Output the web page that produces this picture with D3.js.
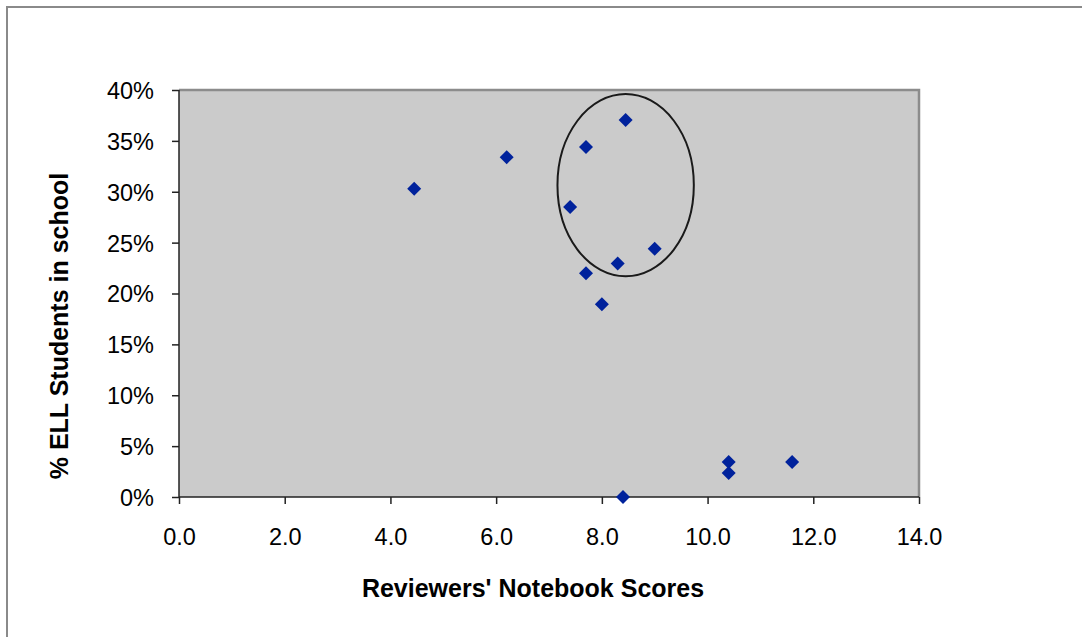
<!DOCTYPE html>
<html>
<head>
<meta charset="utf-8">
<script src="https://cdn.jsdelivr.net/npm/d3@7"></script>
<style>
  body { margin: 0; background: #fff; }
  svg { display: block; font-family: "Liberation Sans", Arial, sans-serif; }
  .axis text { font-size: 23.5px; fill: #000; }
  .axis path, .axis line { stroke: #222; stroke-width: 1.5px; }
</style>
</head>
<body>
<div id="chart"></div>
<script>
// reviewers' notebook scores vs share of ELL students
var scores = [4.45, 6.2, 8.45, 7.7, 7.4, 9.0, 8.3, 7.7, 8.0, 8.4, 10.4, 10.4, 11.6];
var ellPct = [30.3, 33.4, 37.05, 34.4, 28.5, 24.4, 22.95, 22.0, 18.95, 0, 3.45, 2.35, 3.45];
var xTicks = [0, 2, 4, 6, 8, 10, 12, 14];
var yTicks = [0, 5, 10, 15, 20, 25, 30, 35, 40];
// highlighted group: centre and radii in data units
var ring = {cx: 8.45, cy: 30.65, rx: 1.29, ry: 8.95};

var W = 1082, H = 637;
var margin = {top: 90, right: 163, bottom: 140, left: 179};
var width = W - margin.left - margin.right;
var height = H - margin.top - margin.bottom;

var svg = d3.select('#chart').append('svg')
  .attr('width', W)
  .attr('height', H);

// outer frame (left + top only, rest is cropped)
svg.append('path')
  .attr('d', 'M7,' + H + 'V7H' + W)
  .attr('fill', 'none')
  .attr('stroke', '#8a8a8a')
  .attr('stroke-width', 2);

var g = svg.append('g')
  .attr('transform', 'translate(' + margin.left + ',' + margin.top + ')');

var x = d3.scaleLinear().domain([0, 14]).range([0, width]);
var y = d3.scaleLinear().domain([0, 40]).range([height, 0]);

g.append('rect')
  .attr('width', width)
  .attr('height', height)
  .attr('fill', '#cbcbcb');

// plot area border on top / right
g.append('path')
  .attr('d', 'M0,0H' + width + 'V' + height)
  .attr('fill', 'none')
  .attr('stroke', '#8c8c8c')
  .attr('stroke-width', 2.5);

var xAxis = d3.axisBottom(x)
  .tickValues(xTicks)
  .tickSize(7)
  .tickPadding(24)
  .tickFormat(d3.format('.1f'));

var yAxis = d3.axisLeft(y)
  .tickValues(yTicks)
  .tickSize(7)
  .tickPadding(18)
  .tickFormat(function(d) { return d + '%'; });

g.append('g')
  .attr('class', 'x axis')
  .attr('transform', 'translate(0,' + height + ')')
  .call(xAxis)
  .call(function(s) { s.select('.domain').attr('d', 'M0,0H' + width); });

g.append('g')
  .attr('class', 'y axis')
  .call(yAxis)
  .call(function(s) { s.select('.domain').attr('d', 'M0,0V' + height); });

g.selectAll('.y.axis .tick text').attr('dy', '0.36em');

var data = scores.map(function(s, i) { return {x: s, y: ellPct[i]}; });

var diamond = d3.symbol().type(d3.symbolSquare).size(98);

g.append('g')
  .attr('class', 'points')
  .selectAll('path')
  .data(data)
  .enter().append('path')
  .attr('d', diamond)
  .attr('transform', function(d) {
    return 'translate(' + x(d.x) + ',' + y(d.y) + ') rotate(45)';
  })
  .attr('fill', '#00229c');

g.append('ellipse')
  .attr('cx', x(ring.cx))
  .attr('cy', y(ring.cy))
  .attr('rx', x(ring.cx + ring.rx) - x(ring.cx))
  .attr('ry', y(ring.cy) - y(ring.cy + ring.ry))
  .attr('fill', 'none')
  .attr('stroke', '#1a1a1a')
  .attr('stroke-width', 2);

svg.append('text')
  .attr('x', 533)
  .attr('y', 597)
  .attr('text-anchor', 'middle')
  .style('font-size', '25px')
  .style('font-weight', 'bold')
  .text("Reviewers' Notebook Scores");

svg.append('text')
  .attr('transform', 'translate(68,' + 326 + ') rotate(-90)')
  .attr('text-anchor', 'middle')
  .style('font-size', '25px')
  .style('font-weight', 'bold')
  .text('% ELL Students in school');
</script>
</body>
</html>
